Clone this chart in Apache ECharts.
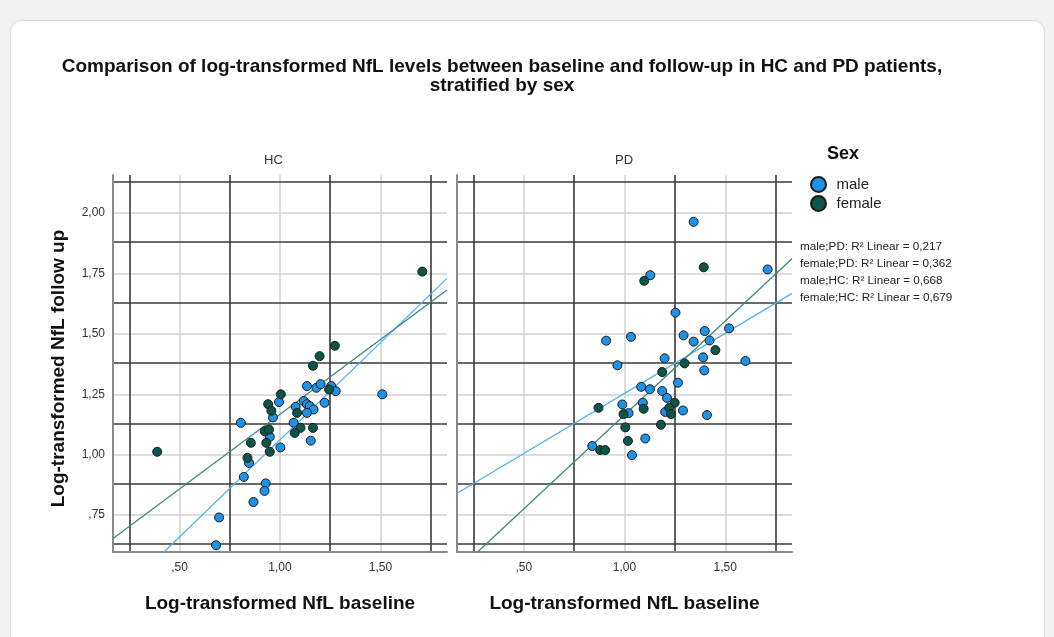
<!DOCTYPE html>
<html>
<head>
<meta charset="utf-8">
<script src="https://cdn.jsdelivr.net/npm/echarts@6/dist/echarts.min.js"></script>
<style>
  html, body { margin: 0; padding: 0; background: #f2f2f2; }
  #card { position: absolute; left: 10px; top: 20px; width: 1035px; height: 640px;
          background: #fff; border: 1px solid #dcdcdc; border-radius: 12px; box-sizing: border-box; }
  #chart { position: absolute; left: 0; top: 0; width: 1054px; height: 637px; }
</style>
</head>
<body>
<div id="card"></div>
<div id="chart"></div>
<script>
// ---- data ----
const panels = ['HC', 'PD'];
const hcMale = [[0.805,1.132],[0.995,1.218],[0.965,1.154],[0.949,1.074],[1.002,1.030],[1.068,1.132],[1.153,1.058],
  [0.846,0.966],[0.820,0.908],[0.929,0.881],[0.923,0.850],[0.868,0.804],[0.697,0.740],[0.682,0.625],
  [1.134,1.284],[1.181,1.277],[1.202,1.292],[1.255,1.284],[1.277,1.263],[1.118,1.222],[1.078,1.198],
  [1.134,1.209],[1.148,1.201],[1.167,1.187],[1.134,1.173],[1.222,1.215],[1.509,1.250]];
const hcFemale = [[0.389,1.012],[1.708,1.758],[1.273,1.451],[1.197,1.408],[1.164,1.368],[1.244,1.270],[1.004,1.250],
  [0.941,1.209],[0.957,1.182],[1.085,1.173],[1.102,1.111],[1.164,1.111],[1.073,1.090],[0.924,1.097],
  [0.945,1.104],[0.855,1.049],[0.932,1.049],[0.949,1.012],[0.838,0.987]];
const pdMale = [[1.343,1.964],[1.710,1.767],[1.128,1.743],[1.253,1.588],[1.519,1.523],[1.398,1.512],[1.293,1.494],
  [1.343,1.468],[1.422,1.473],[0.909,1.472],[1.032,1.488],[1.199,1.399],[1.390,1.403],[1.600,1.388],
  [0.965,1.370],[1.396,1.349],[1.265,1.298],[1.083,1.281],[1.126,1.271],[1.187,1.264],[1.211,1.235],
  [1.202,1.177],[1.290,1.183],[1.409,1.164],[1.091,1.215],[0.989,1.208],[1.020,1.172],[1.103,1.067],
  [0.840,1.036],[1.037,0.998]];
const pdFemale = [[1.393,1.776],[1.098,1.720],[1.451,1.433],[1.298,1.378],[1.187,1.342],[1.249,1.215],[1.222,1.194],
  [1.231,1.168],[1.095,1.190],[0.995,1.168],[0.871,1.194],[1.181,1.124],[1.004,1.113],[1.017,1.057],
  [0.879,1.019],[0.904,1.019]];
// fit line endpoints
const hcMaleFit = [[0.419,0.594],[1.831,1.730]];
const hcFemaleFit = [[0.169,0.653],[1.831,1.682]];
const pdMaleFit = [[0.168,0.839],[1.831,1.668]];
const pdFemaleFit = [[0.267,0.594],[1.831,1.811]];
const xTicks = [0.5, 1.0, 1.5];
const xTickLabels = [',50', '1,00', '1,50'];
const yTicks = [0.75, 1.0, 1.25, 1.5, 1.75, 2.0];
const yTickLabels = [',75', '1,00', '1,25', '1,50', '1,75', '2,00'];
const xMajor = [0.25, 0.75, 1.25, 1.75];
const yMajor = [0.625, 0.875, 1.125, 1.375, 1.625, 1.875, 2.125];
const xRange = [0.169, 1.831];
const yRange = [0.597, 2.158];
const legendNames = ['male', 'female'];
const r2Labels = ['male;PD: R\u00B2 Linear = 0,217', 'female;PD: R\u00B2 Linear = 0,362',
  'male;HC: R\u00B2 Linear = 0,668', 'female;HC: R\u00B2 Linear = 0,679'];
const titleLines = ['Comparison of log-transformed NfL levels between baseline and follow-up in HC and PD patients,', 'stratified by sex'];
const xName = 'Log-transformed NfL baseline';
const yName = 'Log-transformed NfL follow up';

// ---- styles / layout ----
const MALE = '#1e92e6', FEMALE = '#0b554b';
const MALE_LINE = '#52b2f0', FEMALE_LINE = '#3a8a7e';
const LIGHT = '#d2d2d2', DARK = '#3a3a3a';
const FONT = 'Liberation Sans, Arial, sans-serif';

const grids = [
  { left: 113, top: 175, width: 334, height: 377 },
  { left: 457, top: 175, width: 335, height: 377 }
];
const panelLabelX = [273.5, 624];

function fmtLabel(ticks, labels) {
  return function (v) {
    for (let i = 0; i < ticks.length; i++) if (Math.abs(ticks[i] - v) < 1e-6) return labels[i];
    return '';
  };
}

const xAxes = grids.map((g, i) => ({
  gridIndex: i, type: 'value', min: xRange[0], max: xRange[1],
  name: xName, nameLocation: 'middle', nameGap: 42,
  nameTextStyle: { fontFamily: FONT, fontSize: 19, fontWeight: 'bold', color: '#111' },
  axisLine: { show: true, lineStyle: { color: '#8a8a8a', width: 2 } },
  axisTick: { show: false, customValues: xTicks },
  axisLabel: { customValues: xTicks, formatter: fmtLabel(xTicks, xTickLabels), fontFamily: FONT, fontSize: 12, color: '#333', margin: 10 },
  splitLine: { show: false }
}));
const yAxes = grids.map((g, i) => ({
  gridIndex: i, type: 'value', min: yRange[0], max: yRange[1],
  name: i === 0 ? yName : '', nameLocation: 'middle', nameGap: 45,
  nameTextStyle: { fontFamily: FONT, fontSize: 19, fontWeight: 'bold', color: '#111', padding: [0, 10, 0, 0] },
  axisLine: { show: true, lineStyle: { color: '#8a8a8a', width: 2 } },
  axisTick: { show: false, customValues: yTicks },
  axisLabel: { show: i === 0, customValues: yTicks, formatter: fmtLabel(yTicks, yTickLabels), fontFamily: FONT, fontSize: 12, color: '#333', margin: 8 },
  splitLine: { show: false }
}));

const series = [];
grids.forEach((g, i) => {
  const ml = [];
  xTicks.forEach(v => ml.push({ xAxis: v, lineStyle: { color: LIGHT, width: 1.5, type: 'solid' } }));
  yTicks.forEach(v => ml.push({ yAxis: v, lineStyle: { color: LIGHT, width: 1.5, type: 'solid' } }));
  xMajor.forEach(v => ml.push({ xAxis: v, lineStyle: { color: DARK, width: 1.6, type: 'solid' } }));
  yMajor.forEach(v => ml.push({ yAxis: v, lineStyle: { color: DARK, width: 1.6, type: 'solid' } }));
  series.push({
    type: 'scatter', name: 'grid' + i, xAxisIndex: i, yAxisIndex: i, data: [], z: 0, silent: true,
    markLine: { silent: true, z: 0, symbol: ['none', 'none'], label: { show: false }, animation: false, data: ml }
  });
});
const fits = [[hcMaleFit, hcFemaleFit], [pdMaleFit, pdFemaleFit]];
const pts = [[hcMale, hcFemale], [pdMale, pdFemale]];
grids.forEach((g, i) => {
  series.push({ type: 'line', name: 'fitM' + i, xAxisIndex: i, yAxisIndex: i, data: fits[i][0], showSymbol: false, symbol: 'none', clip: true, z: 3,
    lineStyle: { color: MALE_LINE, width: 1.3 } });
  series.push({ type: 'line', name: 'fitF' + i, xAxisIndex: i, yAxisIndex: i, data: fits[i][1], showSymbol: false, symbol: 'none', clip: true, z: 3,
    lineStyle: { color: FEMALE_LINE, width: 1.3 } });
  series.push({ type: 'scatter', name: 'male', xAxisIndex: i, yAxisIndex: i, data: pts[i][0], symbolSize: 9, z: 4,
    itemStyle: { color: MALE, borderColor: '#1a1a1a', borderWidth: 1, opacity: 1 } });
  series.push({ type: 'scatter', name: 'female', xAxisIndex: i, yAxisIndex: i, data: pts[i][1], symbolSize: 9, z: 4,
    itemStyle: { color: FEMALE, borderColor: '#1a1a1a', borderWidth: 1, opacity: 1 } });
});

const graphic = [];
titleLines.forEach((t, k) => {
  graphic.push({ type: 'text', x: 502, y: 67 + k * 19, style: { text: t, fontFamily: FONT, fontSize: 19, fontWeight: 'bold',
    fill: '#111', align: 'center', verticalAlign: 'middle' } });
});
panels.forEach((p, i) => {
  graphic.push({ type: 'text', x: panelLabelX[i], y: 160,
    style: { text: p, fontFamily: FONT, fontSize: 13, fill: '#333', align: 'center', verticalAlign: 'middle' } });
});
graphic.push({ type: 'text', x: 843, y: 154, style: { text: 'Sex', fontFamily: FONT, fontSize: 18, fontWeight: 'bold', fill: '#111',
  align: 'center', verticalAlign: 'middle' } });
r2Labels.forEach((t, k) => {
  graphic.push({ type: 'text', x: 800, y: 247 + k * 17, style: { text: t, fontFamily: FONT, fontSize: 11.7, fill: '#222',
    align: 'left', verticalAlign: 'middle' } });
});

const chart = echarts.init(document.getElementById('chart'), null, { renderer: 'canvas' });
chart.setOption({
  animation: false,
  backgroundColor: 'transparent',
  legend: { data: legendNames, orient: 'vertical', left: 805, top: 171, itemGap: 2, itemWidth: 26, itemHeight: 15,
    icon: 'circle', textStyle: { fontFamily: FONT, fontSize: 15, color: '#222', lineHeight: 16 } },
  grid: grids,
  xAxis: xAxes,
  yAxis: yAxes,
  series: series,
  graphic: graphic
});
</script>
</body>
</html>
